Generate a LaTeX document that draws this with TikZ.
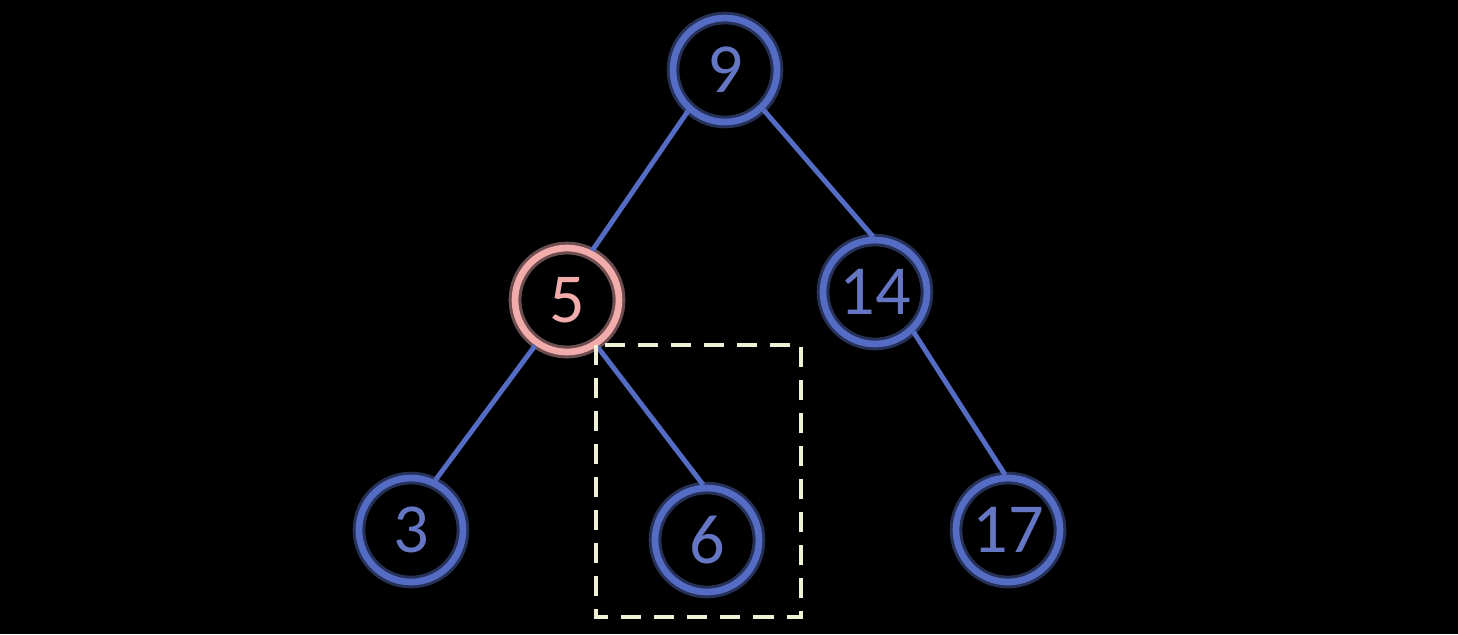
\documentclass[tikz,border=0pt]{standalone}
\usepackage{fontspec}
\setmainfont{Carlito}
\definecolor{bleu}{RGB}{84,108,196}
\definecolor{bleutexte}{RGB}{100,118,196}
\definecolor{rose}{RGB}{242,172,172}
\definecolor{creme}{RGB}{240,240,212}
\begin{document}
\begin{tikzpicture}[xscale=1,yscale=1]
			\tikzstyle{sommet}=[circle,draw=bleu,line width=1.9pt,minimum size=1.04cm,inner sep=0pt,text=bleutexte,font=\fontsize{20}{24}\selectfont,preaction={draw=bleu!45!black,line width=3.6pt}]
			\tikzstyle{actif}=[draw=rose,text=rose,preaction={draw=rose!45!black,line width=3.6pt}]
			\tikzstyle{arete}=[draw=bleu,line width=1.4pt]
			\tikzstyle{cadre}=[draw=creme,line width=0.9pt,dash pattern=on 5.7pt off 3.7pt]
			\def\NiveauA{-0.70}\def\NiveauB{-2.96}\def\NiveauC{-5.33}
			%
			\fill[black] (0,0) rectangle (14.58,-6.34);
			\useasboundingbox (0,0) rectangle (14.58,-6.34);
			%
			\node[sommet] (R) at (7.25,\NiveauA) {9};
			\node[sommet,actif] (Ra) at (5.67,{\NiveauB-0.04}) {5};
			\node[sommet] (Rb) at (8.75,{\NiveauB+0.04}) {14};
			\node[sommet] (Raa) at (4.11,{\NiveauC+0.03}) {3};
			\node[sommet] (Rab) at (7.07,{\NiveauC-0.07}) {6};
			\node[sommet] (Rbb) at (10.08,{\NiveauC+0.03}) {17};
			%
			\draw[arete] (R.228)--(Ra.63);
			\draw[arete] (R.314)--(Rb.92);
			\draw[arete] (Ra.235)--(Raa.64);
			\draw[arete] (Ra.303)--(Rab.94);
			\draw[arete] (Rb.314)--(Rbb.93);
			%
			\draw[cadre] (5.96,-3.45) rectangle (8.01,-6.17);
		\end{tikzpicture}
\end{document}
